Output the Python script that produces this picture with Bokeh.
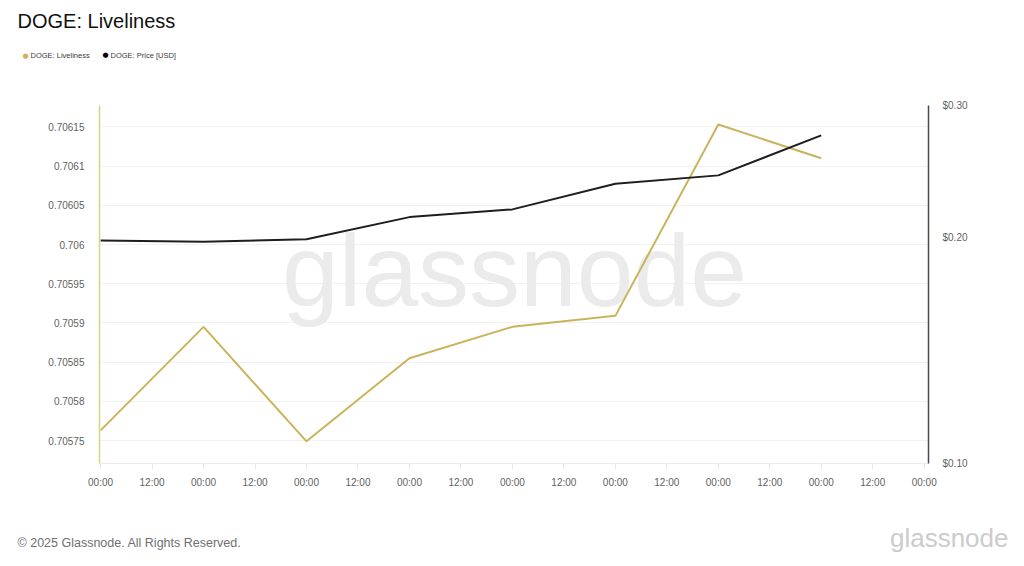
from datetime import datetime, timedelta

from bokeh.plotting import figure
from bokeh.models import (Range1d, LogScale, LogAxis, FixedTicker, Label,
                          DatetimeTickFormatter)
from bokeh.embed import file_html
from bokeh.resources import INLINE

# ---------------- data ----------------
dates = ["2025-07-08", "2025-07-09", "2025-07-10", "2025-07-11",
         "2025-07-12", "2025-07-13", "2025-07-14", "2025-07-15"]
liveliness = [0.705763, 0.705895, 0.705749, 0.705855,
              0.705895, 0.705909, 0.706153, 0.706110]
price_usd = [0.1983, 0.1975, 0.1990, 0.2130, 0.2181, 0.2360, 0.2421, 0.2737]

liveliness_ticks = [0.70575, 0.7058, 0.70585, 0.7059, 0.70595,
                    0.706, 0.70605, 0.7061, 0.70615]
liveliness_tick_labels = ["0.70575", "0.7058", "0.70585", "0.7059", "0.70595",
                          "0.706", "0.70605", "0.7061", "0.70615"]
price_ticks = [0.1, 0.2, 0.3]
price_tick_labels = ["$0.10", "$0.20", "$0.30"]

title_text = "DOGE: Liveliness"
legend_labels = ["DOGE: Liveliness", "DOGE: Price [USD]"]
footer_text = "\u00a9 2025 Glassnode. All Rights Reserved."
brand_text = "glassnode"

# ---------------- styling ----------------
GOLD = "#c9b45c"
GOLD_AXIS = "#d9d386"
DARK = "#1e1e1e"
TICK_TEXT = "#5f5f5f"
FONT = "Liberation Sans"

W, H = 1008, 560
FL, FT, FR, FB = 99, 105, 928, 463  # frame edges (page px)

x = [datetime.strptime(d, "%Y-%m-%d") for d in dates]
x0 = x[0]
x_ticks = [x0 + timedelta(hours=12 * i) for i in range(17)]
to_ms = lambda d: (d - datetime(1970, 1, 1)).total_seconds() * 1000.0

p = figure(width=W, height=H, output_backend="svg", toolbar_location=None,
           x_axis_type="datetime",
           x_range=Range1d(to_ms(x0 - timedelta(hours=0.25)),
                           to_ms(x_ticks[-1] + timedelta(hours=1.0))),
           y_range=Range1d(0.7057207, 0.7061773),
           min_border_left=FL, min_border_right=W - FR,
           min_border_top=FT, min_border_bottom=H - FB)
p.outline_line_color = None
p.background_fill_color = "white"
p.border_fill_color = "white"

p.extra_y_ranges = {"price": Range1d(0.1, 0.3)}
p.extra_y_scales = {"price": LogScale()}

# watermark
p.add_layout(Label(x=415, y=193, x_units="screen", y_units="screen",
                   text=brand_text, text_font=FONT, text_font_size="102px",
                   text_color="#ebebeb", text_align="center",
                   text_baseline="middle", level="underlay"))

p.line(x, liveliness, line_color=GOLD, line_width=2)
p.line(x, price_usd, line_color=DARK, line_width=2, y_range_name="price")

# x axis
xa = p.xaxis[0]
xa.ticker = FixedTicker(ticks=[to_ms(t) for t in x_ticks])
fmt = "%H:%M"
xa.formatter = DatetimeTickFormatter(milliseconds=fmt, seconds=fmt, minsec=fmt,
                                     minutes=fmt, hourmin=fmt, hours=fmt,
                                     days=fmt, months=fmt, years=fmt)
xa.axis_line_color = "#ececec"
xa.major_tick_line_color = "#e6e6e6"
xa.major_tick_in = 0
xa.major_tick_out = 6
xa.minor_tick_line_color = None
xa.major_label_standoff = 7
xa.major_label_text_font = FONT
xa.major_label_text_font_size = "10px"
xa.major_label_text_color = TICK_TEXT

# left axis
ya = p.yaxis[0]
ya.ticker = FixedTicker(ticks=liveliness_ticks)
ya.major_label_overrides = dict(zip(liveliness_ticks, liveliness_tick_labels))
ya.axis_line_color = GOLD_AXIS
ya.axis_line_width = 1.5
ya.major_tick_line_color = None
ya.minor_tick_line_color = None
ya.major_label_standoff = 9
ya.major_label_text_font = FONT
ya.major_label_text_font_size = "10px"
ya.major_label_text_color = TICK_TEXT

# right axis (log)
ra = LogAxis(y_range_name="price", ticker=FixedTicker(ticks=price_ticks))
ra.major_label_overrides = dict(zip(price_ticks, price_tick_labels))
ra.axis_line_color = "#4a4a4a"
ra.axis_line_width = 1.5
ra.major_tick_line_color = None
ra.minor_tick_line_color = None
ra.major_label_standoff = 8
ra.major_label_text_font = FONT
ra.major_label_text_font_size = "10px"
ra.major_label_text_color = TICK_TEXT
p.add_layout(ra, "right")

p.xgrid.grid_line_color = None
p.ygrid.grid_line_color = "#f1f1f1"
p.ygrid.grid_line_width = 1

# title, legend and footer as labels in the side panels
# (each label's y is measured upward from the bottom of its own panel slot)
def lab(side, px, py, text, size, color, align="left", font=FONT):
    p.add_layout(Label(x=px - FL, y=py, x_units="screen", y_units="screen",
                       text=text, text_font=font, text_font_size=size,
                       text_color=color, text_align=align,
                       text_baseline="middle"), side)

lab("above", 25, 50, "\u25cf", "7px", GOLD, align="center", font="DejaVu Sans")
lab("above", 30, 41.9, legend_labels[0], "7.5px", "#3a3a3a")
lab("above", 105, 33.3, "\u25cf", "7px", "#000000", align="center", font="DejaVu Sans")
lab("above", 110, 25.2, legend_labels[1], "7.5px", "#3a3a3a")
lab("above", 17, 50.6, title_text, "20px", "#111111")
lab("below", 17, -38, footer_text, "12.5px", "#707070")
lab("below", 1008, -3.7, brand_text, "26px", "#cccccc", align="right")

open("out.html", "w").write(file_html(p, INLINE))
